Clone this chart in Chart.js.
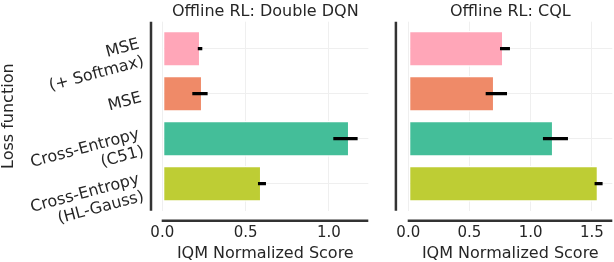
<!DOCTYPE html>
<html><head><meta charset="utf-8">
<script src="https://cdn.jsdelivr.net/npm/chart.js@4.4.1/dist/chart.umd.min.js"></script>
<style>
html,body{margin:0;padding:0;background:#fff;}
#wrap{position:relative;width:614px;height:262px;overflow:hidden;background:#fff;}
canvas{position:absolute;top:0;}
</style></head><body>
<div id="wrap">
<canvas id="c1" width="375" height="262" style="left:0px"></canvas>
<canvas id="c2" width="234" height="262" style="left:380px"></canvas>
</div>
<script>
// ---- data ----
const categories = ["MSE\n(+ Softmax)", "MSE", "Cross-Entropy\n(C51)", "Cross-Entropy\n(HL-Gauss)"];
const barColors = ["#FFA6B8", "#EF8A68", "#44BE99", "#BECD34"];
const ddqnScores = [0.229, 0.241, 1.123, 0.595];
const ddqnLow    = [0.215, 0.182, 1.028, 0.576];
const ddqnHigh   = [0.238, 0.270, 1.170, 0.620];
const cqlScores  = [0.778, 0.704, 1.186, 1.552];
const cqlLow     = [0.752, 0.635, 1.103, 1.525];
const cqlHigh    = [0.828, 0.804, 1.302, 1.585];
const ddqnTicks  = [0, 0.5, 1.0];
const cqlTicks   = [0, 0.5, 1.0, 1.5];
const panelTitles = ["Offline RL: Double DQN", "Offline RL: CQL"];
const xTitle = "IQM Normalized Score";
const yTitle = "Loss function";

const FONT = "'DejaVu Sans', sans-serif";
const TEXT = "#262626";
const GRID = "#efefef";

const spinePlugin = {
  id: 'spines',
  afterDraw(chart, args, opts) {
    const {ctx, chartArea: a} = chart;
    ctx.save();
    ctx.strokeStyle = opts.color;
    ctx.lineWidth = opts.width;
    ctx.beginPath();
    const lx = a.left - opts.leftOffset;
    ctx.moveTo(lx, a.top); ctx.lineTo(lx, a.bottom);
    const by = a.bottom + opts.bottomOffset;
    ctx.moveTo(a.left - 0.6, by); ctx.lineTo(a.right, by);
    ctx.stroke();
    ctx.restore();
  }
};

function makePanel(id, opt) {
  const idx = categories.map((c, i) => i);
  const bars = {
    type: 'bar',
    data: opt.scores.map((v, i) => ({x: v, y: i})),
    backgroundColor: barColors,
    borderColor: '#ffffff',
    borderWidth: 1.5,
    borderSkipped: false,
    barPercentage: 0.8,
    categoryPercentage: 1,
    grouped: false,
    order: 1
  };
  const errs = {
    type: 'bar',
    data: opt.low.map((v, i) => ({x: [v, opt.high[i]], y: i})),
    backgroundColor: '#000000',
    borderWidth: 0,
    barThickness: 2.6,
    grouped: false,
    order: 0
  };
  return new Chart(document.getElementById(id), {
    type: 'bar',
    data: {datasets: [errs, bars]},
    plugins: [spinePlugin],
    options: {
      indexAxis: 'y',
      responsive: false,
      animation: false,
      layout: {padding: {left: 0, right: opt.padRight, top: 0, bottom: 0}},
      plugins: {
        legend: {display: false},
        tooltip: {enabled: false},
        title: {
          display: true, text: opt.title, fullSize: false, color: TEXT,
          font: {family: FONT, size: 16, weight: 'normal', lineHeight: 1.2},
          padding: {top: 2, bottom: 0.5}
        },
        spines: {color: '#333333', width: 2.5, leftOffset: opt.spineOffset, bottomOffset: 10}
      },
      scales: {
        x: {
          type: 'linear', min: 0, max: opt.xmax, offset: false,
          afterBuildTicks: s => { s.ticks = opt.ticks.map(v => ({value: v})); },
          afterFit: s => { s.height = 262 - 210.7; s.paddingLeft = 0; s.paddingRight = 0; },
          grid: {color: GRID, lineWidth: 1, drawTicks: false},
          border: {display: false},
          ticks: {
            color: TEXT, padding: 13,
            font: {family: FONT, size: 15, lineHeight: 1.2},
            callback: v => Number(v).toFixed(1)
          },
          title: {
            display: true, text: xTitle, color: TEXT,
            font: {family: FONT, size: 16, lineHeight: 1.0},
            padding: {top: 0, bottom: 0}
          }
        },
        y: {
          type: 'linear', reverse: true, min: -0.6, max: 3.6, offset: false,
          afterBuildTicks: s => { s.ticks = idx.map(v => ({value: v})); },
          afterFit: s => { s.width = opt.yWidth; s.paddingTop = 0; s.paddingBottom = 0; },
          grid: {color: GRID, lineWidth: 1, drawTicks: false, offset: false},
          border: {display: false},
          ticks: {
            display: opt.showY, color: TEXT, padding: 21, labelOffset: 4,
            minRotation: 15, maxRotation: 15,
            font: {family: FONT, size: 16, lineHeight: 1.12},
            callback: v => (categories[v] || '').split('\n')
          },
          title: {
            display: opt.showY, text: yTitle, color: TEXT,
            font: {family: FONT, size: 16, lineHeight: 1.15},
            padding: 0
          }
        }
      }
    }
  });
}

makePanel('c1', {
  title: panelTitles[0], scores: ddqnScores, low: ddqnLow, high: ddqnHigh,
  ticks: ddqnTicks, xmax: 1.236, padRight: 375 - 368.3, yWidth: 162.3,
  spineOffset: 11.3, showY: true
});
makePanel('c2', {
  title: panelTitles[1], scores: cqlScores, low: cqlLow, high: cqlHigh,
  ticks: cqlTicks, xmax: 1.667, padRight: 234 - 232.3, yWidth: 28.3,
  spineOffset: 12.4, showY: false
});
</script>
</body></html>
